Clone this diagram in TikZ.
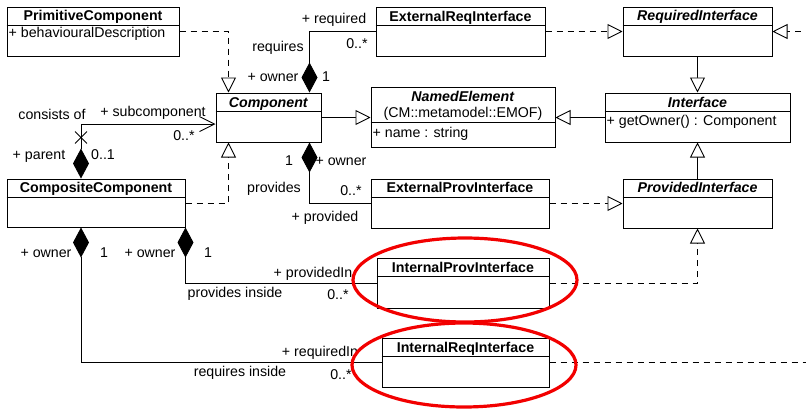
\documentclass[tikz,border=0pt]{standalone}
\usepackage{fontspec}
\setmainfont{Liberation Sans}
\usetikzlibrary{arrows.meta,shapes.misc,calc}

% #1 node name, #2 left, #3 top, #4 right, #5 bottom, #6 header height, #7 class name
\newcommand\umlclass[7]{%
  \node[cls, minimum width={#4-#2}, minimum height={#5-#3}] (#1) at ({(#2+#4)/2},{(#3+#5)/2}) {};
  \draw[line width=0.9pt] ([yshift={-(#6)*1pt}]#1.north west) -- ([yshift={-(#6)*1pt}]#1.north east);
  \node[txt] (#1-t) at ([yshift={-(#6)/2*1pt}]#1.north) {#7};
}

\begin{document}
\begin{tikzpicture}[x=1pt, y=-1pt,
  cls/.style={draw, rectangle, line width=1pt, inner sep=0pt, fill=white},
  txt/.style={inner sep=0pt, text height=10pt, text depth=0pt, font=\fontsize{14.2}{16}\selectfont},
  gen/.style={line width=0.9pt, -{Triangle[open, length=15pt, width=15pt, fill=white]}},
  real/.style={gen, dash pattern=on 6pt off 5pt},
  compo/.style={line width=0.9pt, {Diamond[length=30pt, width=16pt]}-},
  navcompo/.style={line width=0.9pt, {Diamond[length=30pt, width=16pt]}-{Straight Barb[length=15pt, width=15pt]}},
  ring/.style={red!95!black, line width=3.2pt}]

\useasboundingbox (0,0) rectangle (806,408);
\clip (0,0) rectangle (806,408);

% classes
\umlclass{prim}{7}{7}{179}{56}{18.5}{\textbf{PrimitiveComponent}}
\node[txt, anchor=west] (prim-a) at ([xshift=2pt, yshift=-26pt]prim.north west) {+ behaviouralDescription};

\umlclass{comp}{216}{93}{321}{142}{19}{\textbf{\itshape Component}}
\umlclass{composite}{7}{179}{185}{227}{18.5}{\textbf{CompositeComponent}}
\umlclass{extReq}{376}{7}{545}{56}{19}{\textbf{ExternalReqInterface}}
\umlclass{reqI}{623}{7}{772}{56}{18.5}{\textbf{\itshape RequiredInterface}}

\umlclass{named}{371}{87}{555}{147}{36}{}
\node[txt] (named-n) at ([yshift=-10pt]named.north) {\textbf{\itshape NamedElement}};
\node[txt] (named-p) at ([yshift=-26pt]named.north) {(CM::metamodel::EMOF)};
\node[txt, anchor=west] (named-a) at ([xshift=2pt, yshift=-46pt]named.north west) {+ name : string};

\umlclass{iface}{605}{93}{790}{142}{19}{\textbf{\itshape Interface}}
\node[txt, anchor=west] (iface-a) at ([xshift=2pt, yshift=-28pt]iface.north west) {+ getOwner() : Component};

\umlclass{extProv}{371}{179}{549}{228}{18.5}{\textbf{ExternalProvInterface}}
\umlclass{provI}{623}{179}{772}{228}{18.5}{\textbf{\itshape ProvidedInterface}}
\umlclass{intProv}{377}{258}{549}{308}{19}{\textbf{InternalProvInterface}}
\umlclass{intReq}{382}{338}{549}{387}{19}{\textbf{InternalReqInterface}}

% generalizations and realizations
\draw[real] (prim.east) -| ([xshift=13pt]comp.north west);
\draw[real] (composite.east) -| ([xshift=13pt]comp.south west);
\draw[gen] (comp.east) -- (comp.east -| named.west);
\draw[gen] (iface.west) -- (iface.west -| named.east);
\draw[gen] (reqI.south) -- (iface.north);
\draw[gen] (provI.north) -- (iface.south);
\draw[real] (extReq.east) -- (extReq.east -| reqI.west);
\draw[real] (extProv.east) -- (extProv.east -| provI.west);
\draw[real] (intProv.east) -| (provI.south);
\draw[real] (intReq.east) -- ++(400,0) |- (reqI.east);

% compositions
\draw[compo] ([xshift=-12pt]comp.north east) |- (extReq.west);
\draw[compo] ([xshift=-12pt]comp.south east) |- (extProv.west);
\draw[navcompo] ([xshift=-15pt]composite.north) |- ([yshift=-6.5pt]comp.west);
\node[cross out, draw, line width=0.9pt, minimum size=11pt, inner sep=0pt] (nonav) at ([xshift=-15pt, yshift=41pt]composite.north) {};
\draw[compo] (composite.south east) |- (intProv.west);
\draw[compo] ([xshift=-15pt]composite.south) |- (intReq.west);

% association labels
\node[txt] (l-req) at (334,18) {+ required};
\node[txt] (l-reqm) at (357,43) {0..*};
\node[txt] (l-requires) at (278,46) {requires};
\node[txt] (l-ow1) at (273,76) {+ owner};
\node[txt] (l-ow1m) at (326,76) {1};
\node[txt] (l-ow2m) at (289,160) {1};
\node[txt] (l-ow2) at (341,160) {+ owner};
\node[txt] (l-provides) at (274,187) {provides};
\node[txt] (l-provm) at (351,190) {0..*};
\node[txt] (l-prov) at (325,216) {+ provided};
\node[txt] (l-consists) at (52,114) {consists of};
\node[txt] (l-sub) at (153,111) {+ subcomponent};
\node[txt] (l-subm) at (184,135) {0..*};
\node[txt] (l-parent) at (39,154) {+ parent};
\node[txt] (l-parentm) at (103,154) {0..1};
\node[txt] (l-ow3) at (46,252) {+ owner};
\node[txt] (l-ow3m) at (104,252) {1};
\node[txt] (l-ow4) at (150,252) {+ owner};
\node[txt] (l-ow4m) at (208,252) {1};
\node[txt] (l-provin) at (313,272) {+ providedIn};
\node[txt] (l-provinside) at (235,292) {provides inside};
\node[txt] (l-provinm) at (338,294) {0..*};
\node[txt] (l-reqin) at (320,351) {+ requiredIn};
\node[txt] (l-reqinside) at (240,371) {requires inside};
\node[txt] (l-reqinm) at (341,374) {0..*};

% highlight rings
\draw[ring] (465,280) ellipse (112 and 42);
\draw[ring] (464,365) ellipse (112 and 42);
\end{tikzpicture}
\end{document}
